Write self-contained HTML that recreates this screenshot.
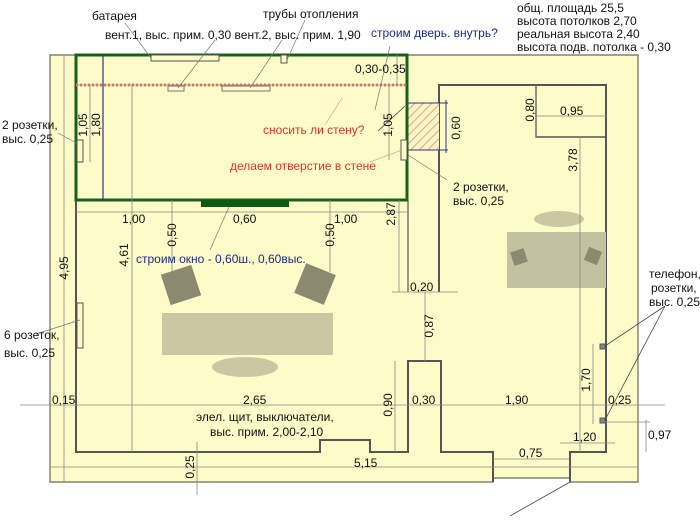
<!DOCTYPE html>
<html><head><meta charset="utf-8"><style>
html,body{margin:0;padding:0;background:#fff;}
svg{display:block;}
text{font-family:"Liberation Sans",sans-serif;font-size:12px;fill:#111;}
</style></head><body>
<svg width="700" height="525" viewBox="0 0 700 525" xmlns="http://www.w3.org/2000/svg">
<defs>
<pattern id="h" width="6" height="6" patternUnits="userSpaceOnUse" patternTransform="rotate(45)">
<rect width="6" height="6" fill="#fbf6c8"/><line x1="0" y1="0" x2="0" y2="6" stroke="#e08a6a" stroke-width="1.5"/>
</pattern>
</defs>
<path d="M50,55 H638 V482 H570 V478 H493 V482 H50 Z" fill="#fdfbc8" stroke="#6b6b55" stroke-width="1.2"/>
<path d="M76,55 V452 H320 V440 H370 V452 H408 V361 H441 V452 H493 V482" fill="none" stroke="#555" stroke-width="2"/>
<path d="M570,482 V452 H606 V85 H439 V292" fill="none" stroke="#555" stroke-width="2"/>
<path d="M536,85 V137 H607" fill="none" stroke="#555" stroke-width="1.5"/>
<line x1="408" y1="200" x2="408" y2="292" stroke="#555" stroke-width="1.2"/>
<rect x="408" y="103" width="31" height="47" fill="url(#h)"/>
<line x1="408" y1="103" x2="448" y2="103" stroke="#33338a"/><line x1="408" y1="150" x2="448" y2="150" stroke="#33338a"/>
<line x1="446" y1="100" x2="446" y2="153" stroke="#33338a"/>
<text transform="translate(460,128) rotate(-90)" text-anchor="middle">0,60</text>
<rect x="76" y="55" width="331" height="145" fill="none" stroke="#1d5e1d" stroke-width="3"/>
<rect x="201" y="200" width="88" height="7" fill="#0e5a14"/>
<line x1="76" y1="85" x2="407" y2="85" stroke="#d08a7a" stroke-width="3" stroke-dasharray="2,2"/>
<line x1="76" y1="85" x2="407" y2="85" stroke="#c06060" stroke-width="0.8"/>
<rect x="151" y="55" width="68" height="6" fill="#fdfbc8" stroke="#555"/>
<rect x="281" y="55" width="6" height="8" fill="#fdfbc8" stroke="#555"/>
<rect x="168" y="86" width="16" height="5" fill="#fdfbc8" stroke="#777"/>
<rect x="222" y="86" width="48" height="5" fill="#fdfbc8" stroke="#777"/>
<rect x="77" y="140" width="6" height="22" fill="#fdfbc8" stroke="#555"/>
<rect x="401" y="140" width="6" height="20" fill="#fdfbc8" stroke="#555"/>
<rect x="77" y="303" width="6" height="45" fill="#fdfbc8" stroke="#555"/>
<rect x="600" y="344" width="5" height="5" fill="#888" stroke="#555"/>
<rect x="600" y="418" width="5" height="5" fill="#888" stroke="#555"/>
<rect x="162" y="313" width="171" height="42" fill="#c9c8a2"/>
<ellipse cx="245" cy="367" rx="33" ry="10" fill="#c9c8a2"/>
<rect x="-16" y="-16" width="32" height="32" fill="#8b8a70" transform="translate(181,285) rotate(-18)"/>
<rect x="-16" y="-16" width="32" height="32" fill="#8b8a70" transform="translate(315,284) rotate(22)"/>
<rect x="507" y="232" width="99" height="56" fill="#c2c1a0"/>
<ellipse cx="559" cy="219" rx="25" ry="8" fill="#c9c8a2"/>
<rect x="-7" y="-7" width="14" height="14" fill="#8b8a70" transform="translate(519,257) rotate(-18)"/>
<rect x="-7" y="-7" width="14" height="14" fill="#8b8a70" transform="translate(593,256) rotate(22)"/>
<g stroke="#888" stroke-width="0.8" fill="none">
<line x1="64" y1="55" x2="64" y2="482"/>
<line x1="132" y1="85" x2="132" y2="452"/>
<line x1="90" y1="85" x2="90" y2="162"/>
<line x1="76" y1="212" x2="407" y2="212"/>
<line x1="172" y1="200" x2="172" y2="272"/>
<line x1="330" y1="200" x2="330" y2="272"/>
<line x1="20" y1="405" x2="665" y2="405"/>
<line x1="50" y1="467" x2="638" y2="467"/>
<line x1="197" y1="442" x2="197" y2="495"/>
<line x1="399" y1="200" x2="399" y2="292"/>
<line x1="392" y1="292" x2="458" y2="292"/>
<line x1="425" y1="292" x2="425" y2="361"/>
<line x1="395" y1="361" x2="395" y2="452"/>
<line x1="389" y1="85" x2="389" y2="160"/>
<line x1="397" y1="55" x2="397" y2="85"/>
<line x1="536" y1="116" x2="607" y2="116"/>
<line x1="536" y1="85" x2="536" y2="137"/>
<line x1="580" y1="137" x2="580" y2="452"/>
<line x1="593" y1="344" x2="593" y2="424"/>
<line x1="605" y1="422" x2="650" y2="422"/>
<line x1="646" y1="420" x2="646" y2="452"/>
<line x1="560" y1="443" x2="615" y2="443"/>
<line x1="493" y1="459" x2="570" y2="459"/>
</g>
<line x1="103" y1="55" x2="103" y2="200" stroke="#33338a" stroke-width="1.2"/>
<g stroke="#444" stroke-width="0.8">
<line x1="570" y1="482" x2="510" y2="516"/>
<line x1="378" y1="131" x2="405" y2="106"/>
<line x1="605" y1="346" x2="665" y2="306"/>
<line x1="605" y1="420" x2="665" y2="306"/>
</g>
<g stroke="#777" stroke-width="0.7">
<line x1="125" y1="23" x2="151" y2="58"/><line x1="305" y1="20" x2="287" y2="60"/>
<line x1="215" y1="40" x2="178" y2="88"/><line x1="282" y1="40" x2="250" y2="88"/>
<line x1="58" y1="133" x2="78" y2="144"/><line x1="36" y1="334" x2="80" y2="320"/>
<line x1="408" y1="155" x2="447" y2="180"/><line x1="390" y1="46" x2="375" y2="110"/>
<line x1="210" y1="250" x2="229" y2="207"/>
</g>
<line x1="342" y1="98" x2="325" y2="125" stroke="#d8a090" stroke-width="0.7"/>
<line x1="370" y1="162" x2="402" y2="150" stroke="#d8a090" stroke-width="0.7"/>
<text x="92" y="20">батарея</text>
<text x="263" y="18">трубы отопления</text>
<text x="105" y="39">вент.1, выс. прим. 0,30 вент.2, выс. прим. 1,90</text>
<text x="371" y="37" style="fill:#1a2a8a">строим дверь. внутрь?</text>
<text x="517" y="12">общ. площадь 25,5</text>
<text x="517" y="25">высота потолков 2,70</text>
<text x="517" y="38">реальная высота 2,40</text>
<text x="517" y="51">высота подв. потолка - 0,30</text>
<text x="355" y="73">0,30-0,35</text>
<text x="263" y="134" style="fill:#e03030">сносить ли стену?</text>
<text x="230" y="170" style="fill:#e03030">делаем отверстие в стене</text>
<text x="2" y="129">2 розетки,</text><text x="2" y="143">выс. 0,25</text>
<text x="453" y="191">2 розетки,</text><text x="453" y="205">выс. 0,25</text>
<text x="4" y="339">6 розеток,</text><text x="4" y="357">выс. 0,25</text>
<text x="649" y="278">телефон,</text><text x="651" y="292">розетки,</text><text x="649" y="306">выс. 0,25</text>
<text x="196" y="421">элел. щит, выключатели,</text>
<text x="210" y="436">выс. прим. 2,00-2,10</text>
<text x="136" y="263" style="fill:#1a2a8a">строим окно - 0,60ш., 0,60выс.</text>
<text x="122" y="223">1,00</text><text x="233" y="223">0,60</text><text x="334" y="223">1,00</text>
<text x="52" y="404">0,15</text><text x="243" y="404">2,65</text>
<text x="412" y="404">0,30</text><text x="505" y="404">1,90</text><text x="608" y="404">0,25</text>
<text x="410" y="291">0,20</text><text x="560" y="115">0,95</text>
<text x="573" y="441">1,20</text><text x="519" y="457">0,75</text><text x="354" y="467">5,15</text>
<text x="648" y="439">0,97</text>
<g>
<text transform="translate(68,268) rotate(-90)" text-anchor="middle">4,95</text>
<text transform="translate(128,255) rotate(-90)" text-anchor="middle">4,61</text>
<text transform="translate(87,125) rotate(-90)" text-anchor="middle">1,05</text>
<text transform="translate(100,125) rotate(-90)" text-anchor="middle">1,80</text>
<text transform="translate(176,235) rotate(-90)" text-anchor="middle">0,50</text>
<text transform="translate(334,235) rotate(-90)" text-anchor="middle">0,50</text>
<text transform="translate(395,214) rotate(-90)" text-anchor="middle">2,87</text>
<text transform="translate(392,125) rotate(-90)" text-anchor="middle">1,05</text>
<text transform="translate(433,326) rotate(-90)" text-anchor="middle">0,87</text>
<text transform="translate(392,405) rotate(-90)" text-anchor="middle">0,90</text>
<text transform="translate(534,110) rotate(-90)" text-anchor="middle">0,80</text>
<text transform="translate(577,160) rotate(-90)" text-anchor="middle">3,78</text>
<text transform="translate(590,380) rotate(-90)" text-anchor="middle">1,70</text>
<text transform="translate(194,467) rotate(-90)" text-anchor="middle">0,25</text>
</g>
</svg>
</body></html>
